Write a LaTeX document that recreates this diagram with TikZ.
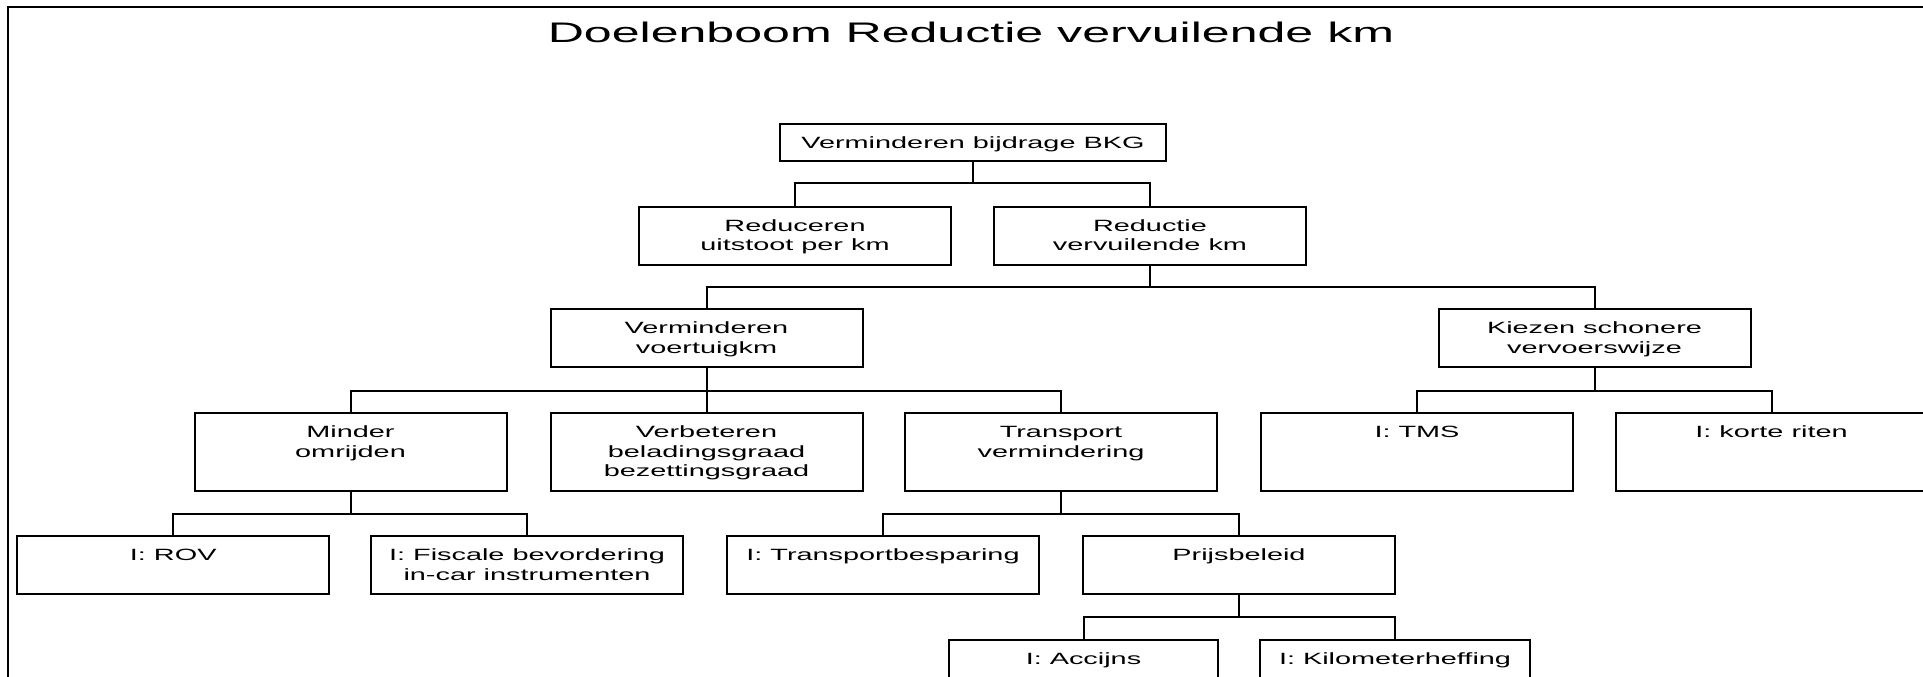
\documentclass[tikz,border=0pt]{standalone}
\usepackage{fontspec}
\setmainfont{Liberation Sans}[FakeStretch=1.77]
\newcommand{\bxt}[3]{\parbox[c][#2][t]{#1}{\centering\fontsize{16.3}{19.7}\selectfont\rule{0pt}{24.5pt}#3\par}}
\tikzset{
  boxstyle/.style={draw, line width=2pt, inner sep=0pt, outer sep=0pt},
  conn/.style={line width=2pt, line cap=rect},
}
\begin{document}
\begin{tikzpicture}[x=1pt, y=-1pt]
\useasboundingbox (0,0) rectangle (1923,677);
\clip (0,0) rectangle (1923,677);
\fill[white] (0,0) rectangle (1923,677);
% frame
\draw[line width=2pt] (8,700) -- (8,7.5) -- (1940,7.5);
% title
\node[anchor=base, inner sep=0pt, font=\fontsize{28.3}{34}\selectfont] (title) at (971,42.7) {Doelenboom Reductie vervuilende km};
% level 1
\node[boxstyle] (B1) at (973,142.25) {\bxt{386pt}{37.5pt}{Verminderen bijdrage BKG}};
% level 2
\node[boxstyle] (R1) at (795,235.5) {\bxt{312pt}{58pt}{Reduceren\\uitstoot per km}};
\node[boxstyle] (R2) at (1150,235.5) {\bxt{312pt}{58pt}{Reductie\\vervuilende km}};
% level 3
\node[boxstyle] (V1) at (706.5,338) {\bxt{312pt}{58pt}{Verminderen\\voertuigkm}};
\node[boxstyle] (K1) at (1594.5,338) {\bxt{312pt}{58pt}{Kiezen schonere\\vervoerswijze}};
% level 4
\node[boxstyle] (M) at (350.5,451.75) {\bxt{312pt}{77.5pt}{Minder\\omrijden}};
\node[boxstyle] (VB) at (706.5,451.75) {\bxt{312pt}{77.5pt}{Verbeteren\\beladingsgraad\\bezettingsgraad}};
\node[boxstyle] (T) at (1061,451.75) {\bxt{312pt}{77.5pt}{Transport\\vermindering}};
\node[boxstyle] (TMS) at (1417,451.75) {\bxt{312pt}{77.5pt}{I: TMS}};
\node[boxstyle] (KR) at (1771.5,451.75) {\bxt{312pt}{77.5pt}{I: korte riten}};
% level 5
\node[boxstyle] (ROV) at (173.25,565) {\bxt{312pt}{58pt}{I: ROV}};
\node[boxstyle] (FIS) at (527,565) {\bxt{312pt}{58pt}{I: Fiscale bevordering\\in-car instrumenten}};
\node[boxstyle] (TB) at (883,565) {\bxt{312pt}{58pt}{I: Transportbesparing}};
\node[boxstyle] (PB) at (1239,565) {\bxt{312pt}{58pt}{Prijsbeleid}};
% level 6
\node[boxstyle] (AC) at (1083.5,669) {\bxt{269pt}{58pt}{I: Accijns}};
\node[boxstyle] (KM) at (1395,669) {\bxt{270pt}{58pt}{I: Kilometerheffing}};
% bus levels
\coordinate (bus1) at (0,183.3);
\coordinate (bus2) at (0,287);
\coordinate (bus3) at (0,390.7);
\coordinate (bus4) at (0,513.5);
\coordinate (bus5) at (0,617);
% connectors
\draw[conn] (B1.south) -- (B1.south |- bus1);
\draw[conn] (R1.north) -- (R1.north |- bus1) -- (R2.north |- bus1) -- (R2.north);
\draw[conn] (R2.south) -- (R2.south |- bus2);
\draw[conn] (V1.north) -- (V1.north |- bus2) -- (K1.north |- bus2) -- (K1.north);
\draw[conn] (V1.south) -- (VB.north);
\draw[conn] (M.north) -- (M.north |- bus3) -- (T.north |- bus3) -- (T.north);
\draw[conn] (K1.south) -- (K1.south |- bus3);
\draw[conn] (TMS.north) -- (TMS.north |- bus3) -- (KR.north |- bus3) -- (KR.north);
\draw[conn] (M.south) -- (M.south |- bus4);
\draw[conn] (ROV.north) -- (ROV.north |- bus4) -- (FIS.north |- bus4) -- (FIS.north);
\draw[conn] (T.south) -- (T.south |- bus4);
\draw[conn] (TB.north) -- (TB.north |- bus4) -- (PB.north |- bus4) -- (PB.north);
\draw[conn] (PB.south) -- (PB.south |- bus5);
\draw[conn] (AC.north) -- (AC.north |- bus5) -- (KM.north |- bus5) -- (KM.north);
\end{tikzpicture}
\end{document}
